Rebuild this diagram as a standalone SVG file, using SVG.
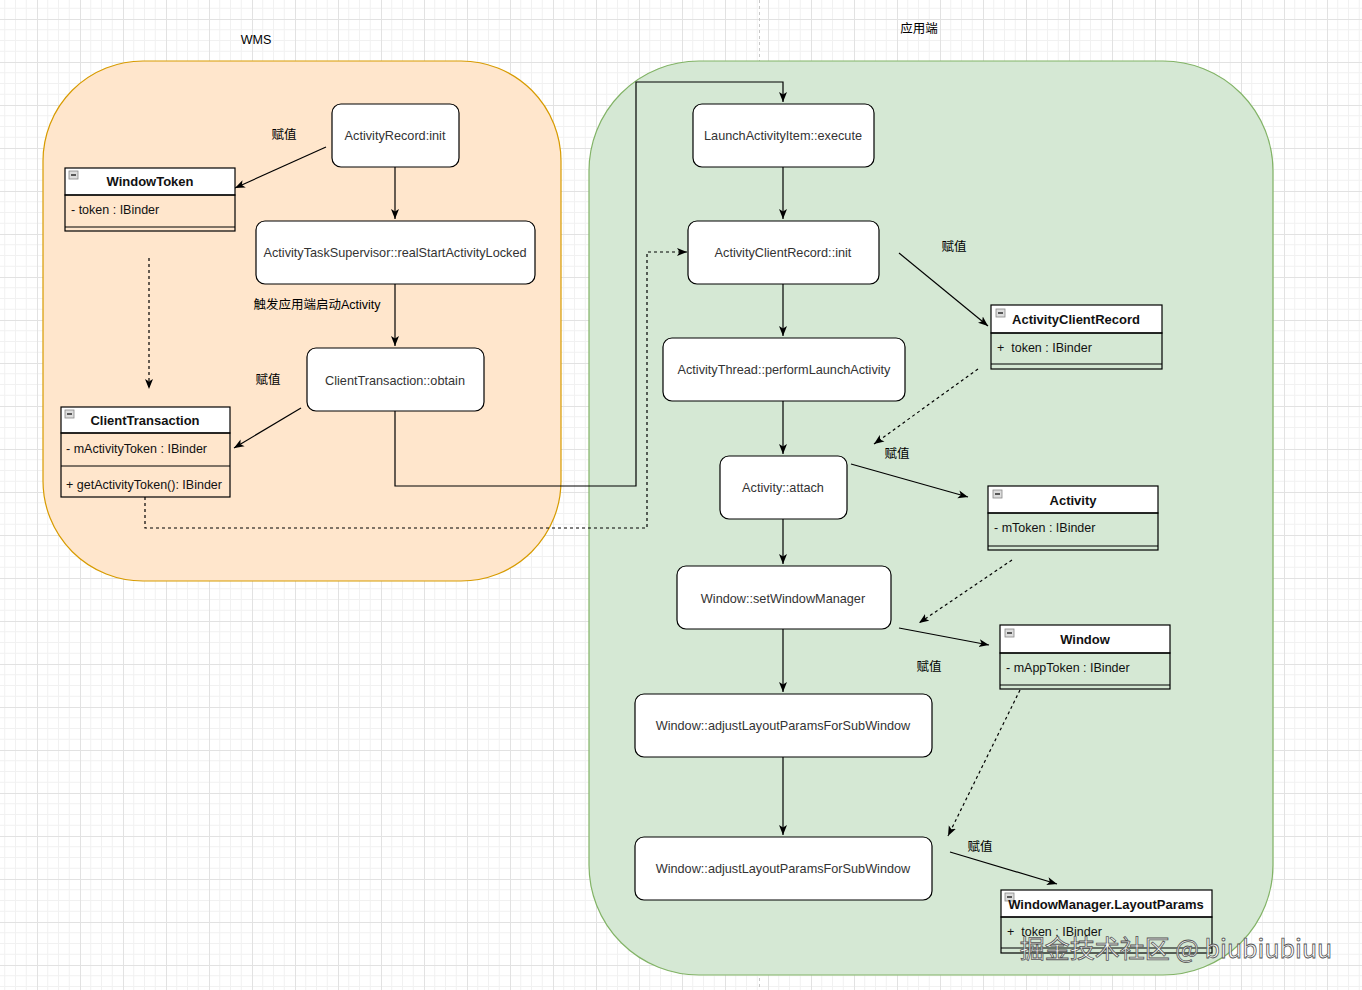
<svg xmlns="http://www.w3.org/2000/svg" width="1362" height="990" viewBox="0 0 1362 990">
<defs>
<pattern id="grid" patternUnits="userSpaceOnUse" x="37" y="19" width="43" height="43">
<path d="M10.75,0V43M21.5,0V43M32.25,0V43M0,10.75H43M0,21.5H43M0,32.25H43" stroke="#f1f1f1" stroke-width="1" fill="none"/>
<path d="M0.5,0V43M0,0.5H43" stroke="#e2e2e2" stroke-width="1" fill="none"/>
</pattern>
<marker id="arr" markerUnits="userSpaceOnUse" markerWidth="11" markerHeight="9" refX="10" refY="4.5" orient="auto">
<path d="M0,0.5 L10,4.5 L0,8.5 L2.5,4.5 z" fill="#000"/>
</marker>
<style>
.node rect.b{fill:#fff;stroke:#000;stroke-width:1.2}
.t{font-family:"Liberation Sans",Arial,sans-serif;font-size:12.7px;fill:#333}
.lbl{font-family:"Liberation Sans","Noto Sans CJK SC",sans-serif;font-size:12.5px;fill:#000}
.hd{font-family:"Liberation Sans",Arial,sans-serif;font-size:13px;font-weight:bold;fill:#111}
.at{font-family:"Liberation Sans",Arial,sans-serif;font-size:12.5px;fill:#111}
.cls rect.h{fill:#fff;stroke:#000;stroke-width:1.2}
.cls rect.bd{fill:none;stroke:#000;stroke-width:1.2}
.cls line{stroke:#000;stroke-width:1.2}
.cls rect.ic{fill:#ddd;stroke:#888;stroke-width:0.8}
.c{fill:none;stroke:#000;stroke-width:1.2}
.d{fill:none;stroke:#000;stroke-width:1.2;stroke-dasharray:3 3}
</style>
</defs>
<rect x="0" y="0" width="1362" height="990" fill="#fff"/>
<rect x="0" y="0" width="1362" height="990" fill="url(#grid)"/>
<line x1="759.5" y1="0" x2="759.5" y2="990" stroke="#c8c8c8" stroke-width="1" stroke-dasharray="3 3"/>

<g id="wms-container">
<rect x="43" y="61" width="518" height="520" rx="100" ry="100" fill="#ffe6cc" stroke="#d79b00" stroke-width="1.2"/>
<text class="lbl" x="256" y="44" text-anchor="middle">WMS</text>
</g>
<g id="app-container">
<rect x="589" y="61" width="684" height="914" rx="110" ry="110" fill="#d5e8d4" stroke="#82b366" stroke-width="1.2"/>
<text class="lbl" x="919" y="33" text-anchor="middle">应用端</text>
</g>

<g id="connectors">
<path class="c" d="M395,167V219" marker-end="url(#arr)"/>
<path class="c" d="M395,284V346" marker-end="url(#arr)"/>
<path class="c" d="M395,411V486H636V82H783V102" marker-end="url(#arr)"/>
<path class="c" d="M326,147L235,188" marker-end="url(#arr)"/>
<path class="c" d="M301,408L234,448" marker-end="url(#arr)"/>
<path class="d" d="M149,258V389" marker-end="url(#arr)"/>
<path class="d" d="M145,497V528H647V252H687" marker-end="url(#arr)"/>
<path class="c" d="M783,167V219" marker-end="url(#arr)"/>
<path class="c" d="M783,284V336" marker-end="url(#arr)"/>
<path class="c" d="M783,401V454" marker-end="url(#arr)"/>
<path class="c" d="M783,519V564" marker-end="url(#arr)"/>
<path class="c" d="M783,629V692" marker-end="url(#arr)"/>
<path class="c" d="M783,757V835" marker-end="url(#arr)"/>
<path class="c" d="M899,253L988,326" marker-end="url(#arr)"/>
<path class="d" d="M978,369L874,444" marker-end="url(#arr)"/>
<path class="c" d="M851,464L968,497" marker-end="url(#arr)"/>
<path class="d" d="M1012,560L919,623" marker-end="url(#arr)"/>
<path class="c" d="M899,628L989,645" marker-end="url(#arr)"/>
<path class="d" d="M1020,690L948,836" marker-end="url(#arr)"/>
<path class="c" d="M950,852L1057,884" marker-end="url(#arr)"/>
<text class="lbl" x="317" y="309" text-anchor="middle">触发应用端启动Activity</text>
<text class="lbl" x="284" y="139" text-anchor="middle">赋值</text>
<text class="lbl" x="268" y="384" text-anchor="middle">赋值</text>
<text class="lbl" x="954" y="251" text-anchor="middle">赋值</text>
<text class="lbl" x="897" y="458" text-anchor="middle">赋值</text>
<text class="lbl" x="929" y="671" text-anchor="middle">赋值</text>
<text class="lbl" x="980" y="851" text-anchor="middle">赋值</text>
</g>

<g id="n-activityrecord-init" class="node"><rect class="b" x="332" y="104" width="127" height="63" rx="9"/><text class="t" x="395" y="139.5" text-anchor="middle">ActivityRecord:init</text></g>
<g id="n-realstart" class="node"><rect class="b" x="256" y="221" width="279" height="63" rx="9"/><text class="t" x="395" y="256.5" text-anchor="middle">ActivityTaskSupervisor::realStartActivityLocked</text></g>
<g id="n-ct-obtain" class="node"><rect class="b" x="307" y="348" width="177" height="63" rx="9"/><text class="t" x="395" y="384.5" text-anchor="middle">ClientTransaction::obtain</text></g>
<g id="n-launch-execute" class="node"><rect class="b" x="693" y="104" width="181" height="63" rx="9"/><text class="t" x="783" y="139.5" text-anchor="middle">LaunchActivityItem::execute</text></g>
<g id="n-acr-init" class="node"><rect class="b" x="688" y="221" width="191" height="63" rx="9"/><text class="t" x="783" y="256.5" text-anchor="middle">ActivityClientRecord::init</text></g>
<g id="n-perform" class="node"><rect class="b" x="663" y="338" width="242" height="63" rx="9"/><text class="t" x="784" y="373.5" text-anchor="middle">ActivityThread::performLaunchActivity</text></g>
<g id="n-attach" class="node"><rect class="b" x="720" y="456" width="127" height="63" rx="9"/><text class="t" x="783" y="491.5" text-anchor="middle">Activity::attach</text></g>
<g id="n-setwm" class="node"><rect class="b" x="677" y="566" width="214" height="63" rx="9"/><text class="t" x="783" y="602.5" text-anchor="middle">Window::setWindowManager</text></g>
<g id="n-adjust1" class="node"><rect class="b" x="635" y="694" width="297" height="63" rx="9"/><text class="t" x="783" y="729.5" text-anchor="middle">Window::adjustLayoutParamsForSubWindow</text></g>
<g id="n-adjust2" class="node"><rect class="b" x="635" y="837" width="297" height="63" rx="9"/><text class="t" x="783" y="872.5" text-anchor="middle">Window::adjustLayoutParamsForSubWindow</text></g>

<g id="c-windowtoken" class="cls">
<rect class="h" x="65" y="168" width="170" height="27"/>
<rect class="ic" x="69" y="171" width="9" height="8"/><line x1="71" y1="175" x2="76" y2="175"/>
<text class="hd" x="150" y="186" text-anchor="middle">WindowToken</text>
<rect class="bd" x="65" y="195" width="170" height="36"/>
<line x1="65" y1="227" x2="235" y2="227"/>
<text class="at" x="71" y="214">- token : IBinder</text>
</g>
<g id="c-clienttransaction" class="cls">
<rect class="h" x="61" y="407" width="169" height="26"/>
<rect class="ic" x="65" y="410" width="9" height="8"/><line x1="67" y1="414" x2="72" y2="414"/>
<text class="hd" x="145" y="425" text-anchor="middle">ClientTransaction</text>
<rect class="bd" x="61" y="433" width="169" height="64"/>
<line x1="61" y1="466" x2="230" y2="466"/>
<text class="at" x="66" y="453">- mActivityToken : IBinder</text>
<text class="at" x="66" y="489">+ getActivityToken(): IBinder</text>
</g>
<g id="c-activityclientrecord" class="cls">
<rect class="h" x="991" y="305" width="171" height="28"/>
<rect class="ic" x="996" y="309" width="9" height="8"/><line x1="998" y1="313" x2="1003" y2="313"/>
<text class="hd" x="1076" y="324" text-anchor="middle">ActivityClientRecord</text>
<rect class="bd" x="991" y="333" width="171" height="36"/>
<line x1="991" y1="364" x2="1162" y2="364"/>
<text class="at" x="997" y="352" xml:space="preserve">+  token : IBinder</text>
</g>
<g id="c-activity" class="cls">
<rect class="h" x="988" y="486" width="170" height="27"/>
<rect class="ic" x="993" y="490" width="9" height="8"/><line x1="995" y1="494" x2="1000" y2="494"/>
<text class="hd" x="1073" y="505" text-anchor="middle">Activity</text>
<rect class="bd" x="988" y="513" width="170" height="37"/>
<line x1="988" y1="546" x2="1158" y2="546"/>
<text class="at" x="994" y="532">- mToken : IBinder</text>
</g>
<g id="c-window" class="cls">
<rect class="h" x="1000" y="625" width="170" height="28"/>
<rect class="ic" x="1005" y="629" width="9" height="8"/><line x1="1007" y1="633" x2="1012" y2="633"/>
<text class="hd" x="1085" y="644" text-anchor="middle">Window</text>
<rect class="bd" x="1000" y="653" width="170" height="36"/>
<line x1="1000" y1="685" x2="1170" y2="685"/>
<text class="at" x="1006" y="672">- mAppToken : IBinder</text>
</g>
<g id="c-layoutparams" class="cls">
<rect class="h" x="1001" y="890" width="211" height="27"/>
<rect class="ic" x="1005" y="893" width="9" height="8"/><line x1="1007" y1="897" x2="1012" y2="897"/>
<text class="hd" x="1106" y="909" text-anchor="middle">WindowManager.LayoutParams</text>
<rect class="bd" x="1001" y="917" width="211" height="36"/>
<line x1="1001" y1="948" x2="1212" y2="948"/>
<text class="at" x="1007" y="936" xml:space="preserve">+  token : IBinder</text>
</g>

<text x="1176" y="958" text-anchor="middle" font-family="'Noto Sans CJK SC','Liberation Sans',sans-serif" font-size="25" fill="#fff" fill-opacity="0.85" stroke="#555" stroke-width="0.8">掘金技术社区 @ biubiubiuu</text>
</svg>
